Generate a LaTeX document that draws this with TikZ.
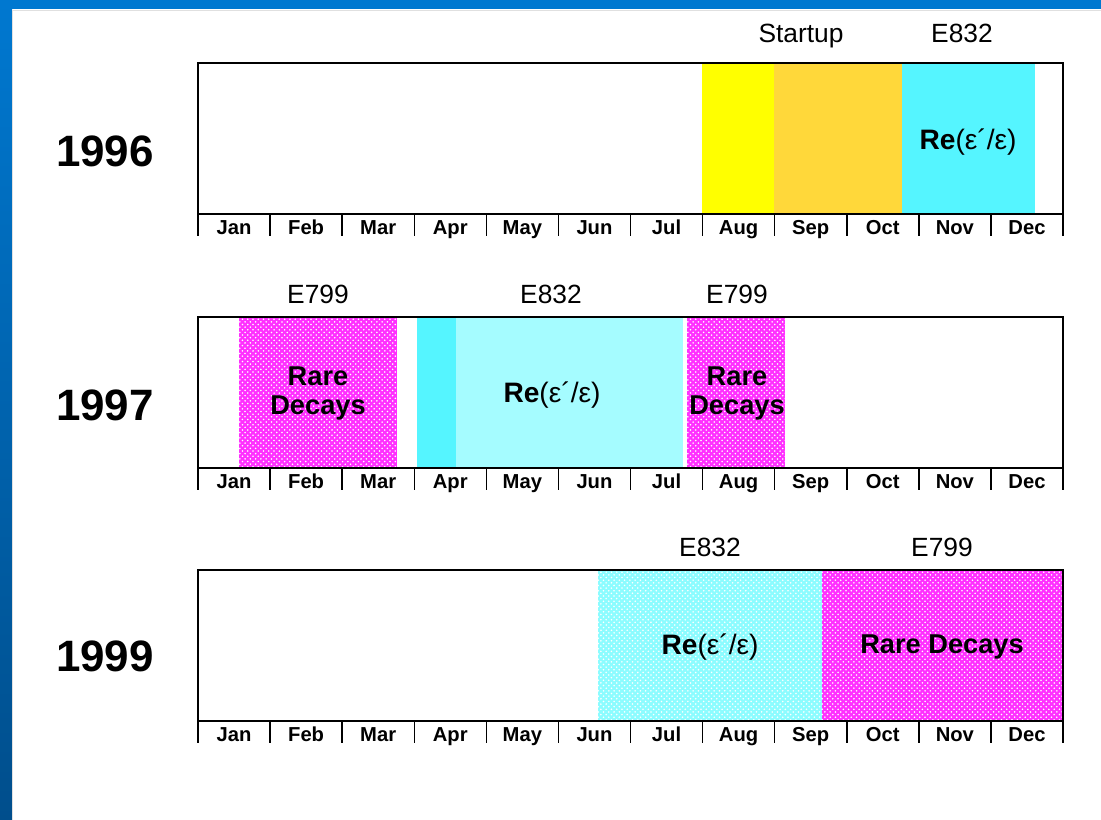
\documentclass[tikz,border=0pt]{standalone}
\usepackage{fontspec}
\setmainfont{Liberation Sans}
\usetikzlibrary{patterns}

\definecolor{frameblue}{HTML}{0078D0}
\definecolor{framedark}{HTML}{004E8C}
\definecolor{startyellow}{HTML}{FFFF00}
\definecolor{startorange}{HTML}{FFD83A}
\definecolor{runcyan}{HTML}{55F5FF}
\definecolor{runcyanlight}{HTML}{A5FCFF}
\definecolor{rarepink}{HTML}{FF30FF}

\tikzset{
  yearlabel/.style={font=\bfseries\fontsize{25}{30}\selectfont},
  explabel/.style={font=\fontsize{15}{18}\selectfont, text height=1.5ex, text depth=.3ex},
  runlabel/.style={font=\fontsize{16}{19}\selectfont},
  rarelabel/.style={font=\bfseries\fontsize{15.5}{16.5}\selectfont, align=center},
  monthlabel/.style={font=\bfseries\fontsize{11.5}{14}\selectfont, text height=1.6ex, text depth=.3ex},
  boxline/.style={line width=0.85pt},
  dotfill/.style={pattern=crosshatch dots, pattern color=white},
}

\begin{document}
\begin{tikzpicture}[x=0.02cm, y=-0.02cm]
     \useasboundingbox (0,0) rectangle (1101,820);

     % frame
     \fill[white] (0,0) rectangle (1101,820);
     \shade[top color=frameblue, bottom color=framedark] (0,0) rectangle (12,820);
     \fill[frameblue] (0,0) rectangle (1101,9);
     \draw[black!12] (12.5,820) -- (12.5,10) -- (1101,10);

     % 1996
     \node[yearlabel] (y1996) at (105,151) {1996};
     \fill[startyellow] (702,63) rectangle (774,214);
     \fill[startorange] (774,63) rectangle (902,214);
     \fill[runcyan] (902,63) rectangle (1035,214);
     \node[explabel] (startup96) at (801,37) {Startup};
     \node[explabel] (e832a96) at (962,37) {E832};
     \node[runlabel] (re96) at (968,142) {\textbf{Re}(ε´/ε)};

     % 1997
     \node[yearlabel] (y1997) at (105,405) {1997};
     \fill[rarepink] (239,317) rectangle (397,467);
     \fill[dotfill] (239,317) rectangle (397,467);
     \fill[runcyan] (417,317) rectangle (456,467);
     \fill[runcyanlight] (456,317) rectangle (683,467);
     \fill[rarepink] (687,317) rectangle (785,467);
     \fill[dotfill] (687,317) rectangle (785,467);
     \node[explabel] (e799a97) at (318,298) {E799};
     \node[explabel] (e832a97) at (551,298) {E832};
     \node[explabel] (e799b97) at (737,298) {E799};
     \node[rarelabel] (rarea97) at (318,393) {Rare\\Decays};
     \node[runlabel] (re97) at (552,395) {\textbf{Re}(ε´/ε)};
     \node[rarelabel] (rareb97) at (737,393) {Rare\\Decays};

     % 1999
     \node[yearlabel] (y1999) at (105,656) {1999};
     \fill[runcyanlight!85!cyan] (598,570) rectangle (822,720);
     \fill[dotfill] (598,570) rectangle (822,720);
     \fill[rarepink] (822,570) rectangle (1063,720);
     \fill[dotfill] (822,570) rectangle (1063,720);
     \node[explabel] (e832a99) at (710,551) {E832};
     \node[explabel] (e799a99) at (942,551) {E799};
     \node[runlabel] (re99) at (710,647) {\textbf{Re}(ε´/ε)};
     \node[rarelabel] (rare99) at (942,647) {Rare Decays};

     % boxes, ticks and months
     \foreach \yr/\top in {96/63, 97/317, 99/570} {
          \draw[boxline] (198,\top) rectangle (1063,\top+151);
          \foreach \k in {0,...,12}
               \draw[boxline] ({198+72.083*\k},\top+151) -- ({198+72.083*\k},\top+173);
          \foreach \m [count=\i from 0] in {Jan,Feb,Mar,Apr,May,Jun,Jul,Aug,Sep,Oct,Nov,Dec}
               \node[monthlabel] (m\yr-\i) at ({198+72.083*(\i+0.5)},\top+165) {\m};
     }
\end{tikzpicture}
\end{document}
